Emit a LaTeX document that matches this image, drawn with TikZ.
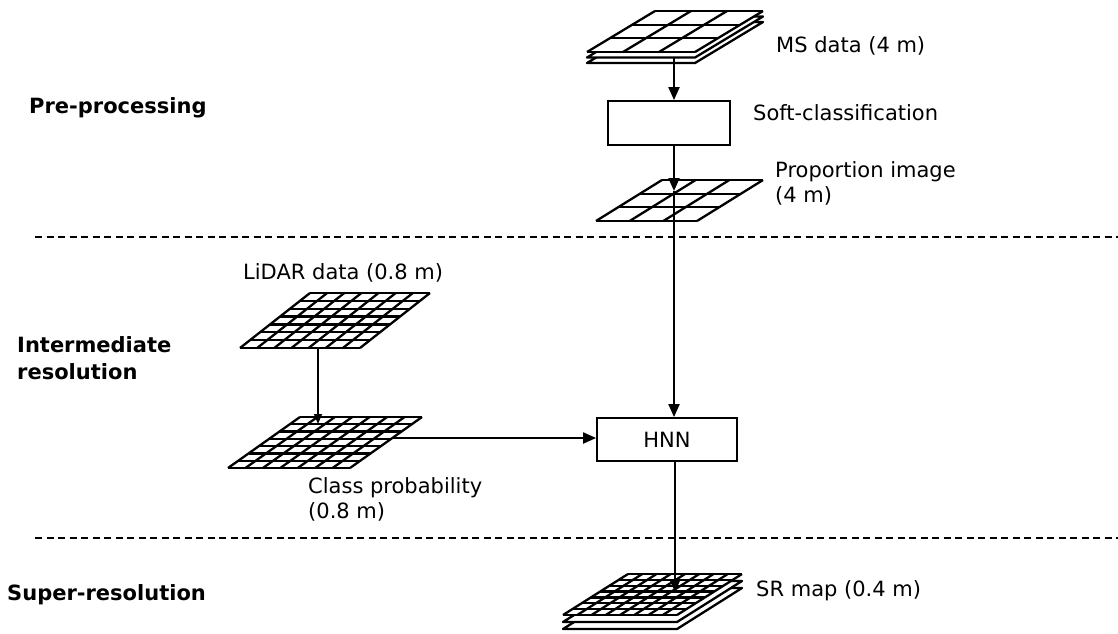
\documentclass[tikz,border=0pt]{standalone}
\usepackage{fontspec}
\setmainfont{DejaVu Sans}
\usetikzlibrary{arrows.meta}

% Skewed raster: bottom-left x, top y, width, height, skew, columns, rows
\newcommand\skewgrid[7]{%
  \fill[white] ({#1+#5},#2) -- ({#1+#5+#3},#2) -- ({#1+#3},{#2+#4}) -- (#1,{#2+#4}) -- cycle;
  \foreach \i in {0,...,#6}{%
    \draw[gridline] ({#1+#5+\i*#3/#6},#2) -- ({#1+\i*#3/#6},{#2+#4});}
  \foreach \j in {0,...,#7}{%
    \draw[gridline] ({#1+#5*(1-\j/#7)},{#2+\j*#4/#7}) -- ++(#3,0);}
}
% Plain sheet below a raster (for stacked bands)
\newcommand\skewsheet[5]{%
  \filldraw[gridline,fill=white] ({#1+#5},#2) -- ({#1+#5+#3},#2) -- ({#1+#3},{#2+#4}) -- (#1,{#2+#4}) -- cycle;
}

\tikzset{
  gridline/.style={line width=2.3pt, line join=round},
  conn/.style={line width=2pt, -{Triangle[length=13pt,width=11pt]}},
  thinconn/.style={line width=1.5pt, -{Triangle[length=10pt,width=8pt]}},
  procbox/.style={draw, line width=1.8pt, inner sep=0pt},
  lbl/.style={anchor=base west, inner sep=0pt, font=\fontsize{21pt}{25pt}\selectfont, align=left},
  stage/.style={lbl, font=\fontsize{21pt}{27pt}\selectfont\bfseries},
  separator/.style={line width=1.6pt, dash pattern=on 7pt off 4.5pt}
}

\begin{document}
\begin{tikzpicture}[x=1pt,y=-1pt]
\useasboundingbox (0,0) rectangle (1118,633);

% stage separators
\draw[separator] (35,237) -- (1118,237);
\draw[separator] (35,538) -- (1118,538);

% stage titles (multi-line nodes are placed by their last baseline)
\node[stage] (pre) at (29,113) {Pre-processing};
\node[stage] (inter) at (17,379) {Intermediate\\resolution};
\node[stage] (super) at (7,600) {Super-resolution};

% MS data: stacked coarse raster
\skewsheet{587}{22}{108}{41}{68}
\skewsheet{587}{16.5}{108}{41}{68}
\skewgrid{587}{11}{108}{41}{68}{3}{3}
\coordinate (ms-out) at (674,57);
\node[lbl] (mslbl) at (776,52) {MS data (4 m)};

% soft classification
\node[procbox, minimum width=122pt, minimum height=44pt] (soft) at (669,123) {};
\node[lbl] (softlbl) at (753,120) {Soft-classification};

% proportion image
\skewgrid{596}{180}{101}{41}{66}{3}{3}
\coordinate (prop-in) at (674,191);
\node[lbl] (proplbl) at (775,202) {Proportion image\\(4 m)};

% LiDAR data
\skewgrid{240}{293}{120}{55}{70}{7}{7}
\coordinate (lidar-out) at (318,349);
\node[lbl] (lidarlbl) at (243,279) {LiDAR data (0.8 m)};

% class probability
\skewgrid{228}{417}{122}{51}{72}{7}{7}
\coordinate (class-in) at (318,424);
\coordinate (class-out) at (392,438);
\node[lbl] (classlbl) at (308,518) {Class probability\\(0.8 m)};

% HNN
\node[procbox, minimum width=140pt, minimum height=43pt,
      font=\fontsize{21pt}{25pt}\selectfont] (hnn) at (667,439.5) {HNN};

% SR map: stacked fine raster
\skewsheet{563}{588}{114}{41}{65}
\skewsheet{563}{581}{114}{41}{65}
\skewgrid{563}{574}{114}{41}{65}{8}{7}
\coordinate (sr-in) at (675,592);
\node[lbl] (srlbl) at (756,596) {SR map (0.4 m)};

% flow
\draw[conn] (ms-out) -- (ms-out |- soft.north);
\draw[conn] (ms-out |- soft.south) -- (prop-in);
\draw[conn] (prop-in) -- (prop-in |- hnn.north);
\draw[thinconn] (lidar-out) -- (class-in);
\draw[conn] (class-out) -- (class-out -| hnn.west);
\draw[conn] (sr-in |- hnn.south) -- (sr-in);
\end{tikzpicture}
\end{document}
